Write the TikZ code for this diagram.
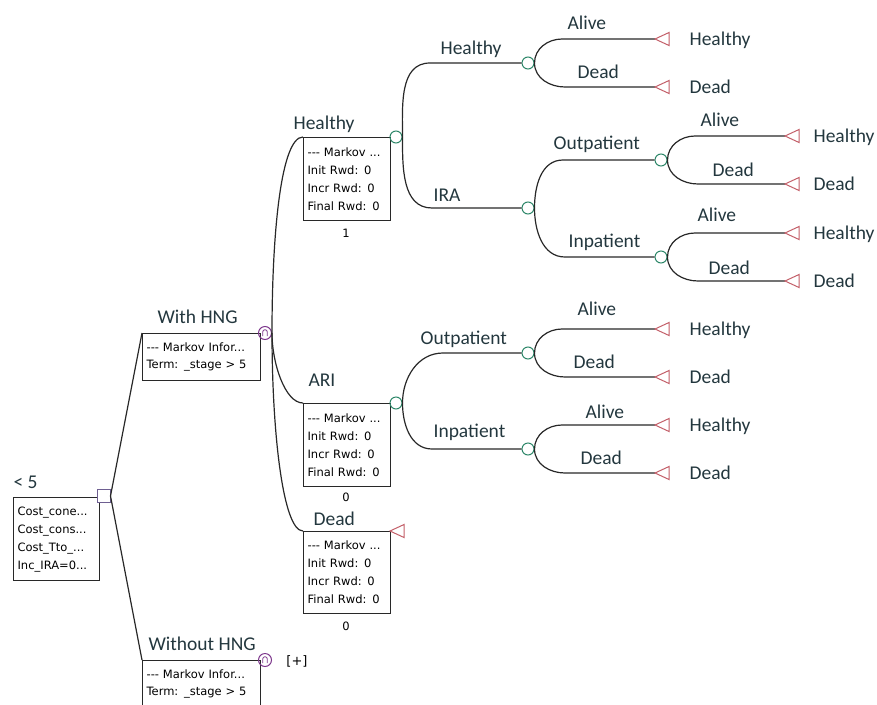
\documentclass[tikz,border=0pt]{standalone}
\usepackage{fontspec}
\setmainfont{Carlito}
\newfontfamily\boxfont{DejaVu Sans}
\usepackage{tikz}
\usetikzlibrary{positioning}

\definecolor{branchc}{RGB}{40,40,40}
\definecolor{chancec}{RGB}{45,135,105}
\definecolor{termc}{RGB}{195,95,105}
\definecolor{decc}{RGB}{110,95,145}
\definecolor{markc}{RGB}{125,55,140}
\definecolor{labc}{RGB}{35,55,62}

\begin{document}
\begin{tikzpicture}[x=1pt, y=-1pt, line width=1.2pt,
        branch/.style = {draw=branchc},
        chance/.style = {circle, draw=chancec, line width=1pt,
            minimum size=12pt, inner sep=0pt},
        markov/.style = {circle, draw=markc, line width=1pt,
            minimum size=13pt, inner sep=0pt,
            path picture={\draw[markc, line width=0.8pt]
                ([shift={(-2.3,3)}]path picture bounding box.center)
                -- ++(0,-4) arc(180:360:2.3) -- ++(0,4);}},
        decision/.style = {rectangle, draw=decc, line width=1pt,
            minimum size=13pt, inner sep=0pt},
        infobox/.style = {draw=branchc, anchor=north west, align=left,
            inner xsep=4pt, inner ysep=0pt,
            font=\boxfont\fontsize{11.5pt}{18pt}\selectfont},
        lbl/.style = {text=labc, anchor=base west, inner sep=0pt,
            font=\fontsize{19.5pt}{22pt}\selectfont},
        val/.style = {inner sep=0pt, font=\boxfont\fontsize{11.5pt}{14pt}\selectfont},
        endtri/.pic = {\draw[termc, line width=1pt] (0,0) -- (14,-6.5) -- (14,6.5) -- cycle;}]

    \useasboundingbox (0,0) rectangle (877,704);
    \clip (0,0) rectangle (877,704);

    % Root decision
    \node[infobox, text width=78pt, minimum height=83pt] (rootbox) at (13,497)
        {Cost\_cone...\\Cost\_cons...\\Cost\_Tto\_...\\Inc\_IRA=0...};
    \node[decision, fill=white] (root) at (103.5,496) {};
    \node[lbl] (rootlbl) at (13,488) {< 5};

    % With HNG
    \node[infobox, text width=110pt, minimum height=47pt,
        font=\boxfont\fontsize{11.5pt}{17pt}\selectfont] (withbox) at (142,333)
        {{-}{-}{-} Markov Infor...\\Term: \_stage > 5};
    \node[markov] (mwith) at (265,333) {};
    \node[lbl] (withlbl) at (157,323) {With HNG};

    % Without HNG
    \node[infobox, text width=110pt, minimum height=47pt,
        font=\boxfont\fontsize{11.5pt}{17pt}\selectfont] (wobox) at (142,660)
        {{-}{-}{-} Markov Infor...\\Term: \_stage > 5};
    \node[markov] (mwo) at (265,660) {};
    \node[lbl] (wolbl) at (148,650) {Without HNG};
    \node[val, font=\boxfont\fontsize{13pt}{15pt}\selectfont] (plus) at (297,661) {[+]};

    \draw[branch] (root.east) -- (withbox.north west);
    \draw[branch] (root.east) -- (wobox.north west);

    % Markov states
    \node[infobox, text width=79pt, minimum height=83pt] (hbox) at (303,137)
        {{-}{-}{-} Markov ...\\Init Rwd: 0\\Incr Rwd: 0\\Final Rwd: 0};
    \node[chance] (hc) at (396,137) {};
    \node[lbl] (hlbl) at (293,129) {Healthy};
    \node[val] (hval) at (346,233) {1};

    \node[infobox, text width=79pt, minimum height=83pt] (abox) at (303,403)
        {{-}{-}{-} Markov ...\\Init Rwd: 0\\Incr Rwd: 0\\Final Rwd: 0};
    \node[chance] (ac) at (396,403) {};
    \node[lbl] (albl) at (308,386) {ARI};
    \node[val] (aval) at (346,497) {0};

    \node[infobox, text width=79pt, minimum height=82pt] (dbox) at (303,531)
        {{-}{-}{-} Markov ...\\Init Rwd: 0\\Incr Rwd: 0\\Final Rwd: 0};
    \coordinate (dend) at (390,531);
    \pic at (dend) {endtri};
    \node[lbl] (dlbl) at (313,525) {Dead};
    \node[val] (dval) at (346,626) {0};

    \draw[branch] (mwith.east) to[out=90, in=180, out distance=100pt, in distance=22pt] (hbox.north west);
    \draw[branch] (mwith.east) to[out=-90, in=180, out distance=30pt, in distance=18pt] (abox.north west);
    \draw[branch] (mwith.east) to[out=-90, in=180, out distance=100pt, in distance=20pt] (dbox.north west);

    % Healthy -> Healthy / IRA
    \node[chance] (h1) at (528,63) {};
    \node[chance] (h2) at (528,208) {};
    \coordinate (hc up) at (430,63);
    \coordinate (hc dn) at (432,208);
    \draw[branch] (hc.east) to[out=90, in=180] (hc up) -- (h1.west);
    \draw[branch] (hc.east) to[out=-90, in=180] (hc dn) -- (h2.west);
    \node[lbl] at (440,54) {Healthy};
    \node[lbl] at (433,201) {IRA};

    % IRA -> Outpatient / Inpatient
    \node[chance] (h3) at (661,160) {};
    \node[chance] (h4) at (661,257) {};
    \coordinate (h2 up) at (563,160);
    \coordinate (h2 dn) at (565,257);
    \draw[branch] (h2.east) to[out=90, in=180] (h2 up) -- (h3.west);
    \draw[branch] (h2.east) to[out=-90, in=180] (h2 dn) -- (h4.west);
    \node[lbl] at (553,149) {Outpatient};
    \node[lbl] at (568,247) {Inpatient};

    % ARI -> Outpatient / Inpatient
    \node[chance] (a1) at (528,353) {};
    \node[chance] (a2) at (528,449) {};
    \coordinate (ac up) at (443,353);
    \coordinate (ac dn) at (432,449);
    \draw[branch] (ac.east) to[out=90, in=180] (ac up) -- (a1.west);
    \draw[branch] (ac.east) to[out=-90, in=180] (ac dn) -- (a2.west);
    \node[lbl] at (420,344) {Outpatient};
    \node[lbl] at (433,437) {Inpatient};

    % Alive / Dead outcomes
    \foreach \c/\tx/\sx/\xa/\ya/\xd/\yd in {h1/127/34/567/29/577/78,
            h3/124/28/700/126/712/176, h4/124/28/697/221/708/274,
            a1/127/34/577/315/573/368, a2/127/34/585/418/580/464}{
        \coordinate (\c up) at ([shift={(34,-24)}]\c.center);
        \coordinate (\c dn) at ([shift={(37,24)}]\c.center);
        \coordinate (\c alive) at ([shift={(\tx,-24)}]\c.center);
        \coordinate (\c dead) at ([shift={(\tx,24)}]\c.center);
        \draw[branch] (\c.east) to[out=90, in=180] (\c up) -- (\c alive);
        \draw[branch] (\c.east) to[out=-90, in=180] (\c dn) -- (\c dead);
        \pic at (\c alive) {endtri};
        \pic at (\c dead) {endtri};
        \node[lbl] at (\xa,\ya) {Alive};
        \node[lbl] at (\xd,\yd) {Dead};
        \node[lbl] at ([shift={(\sx,6)}]\c alive) {Healthy};
        \node[lbl] at ([shift={(\sx,6)}]\c dead) {Dead};
    }
\end{tikzpicture}
\end{document}
